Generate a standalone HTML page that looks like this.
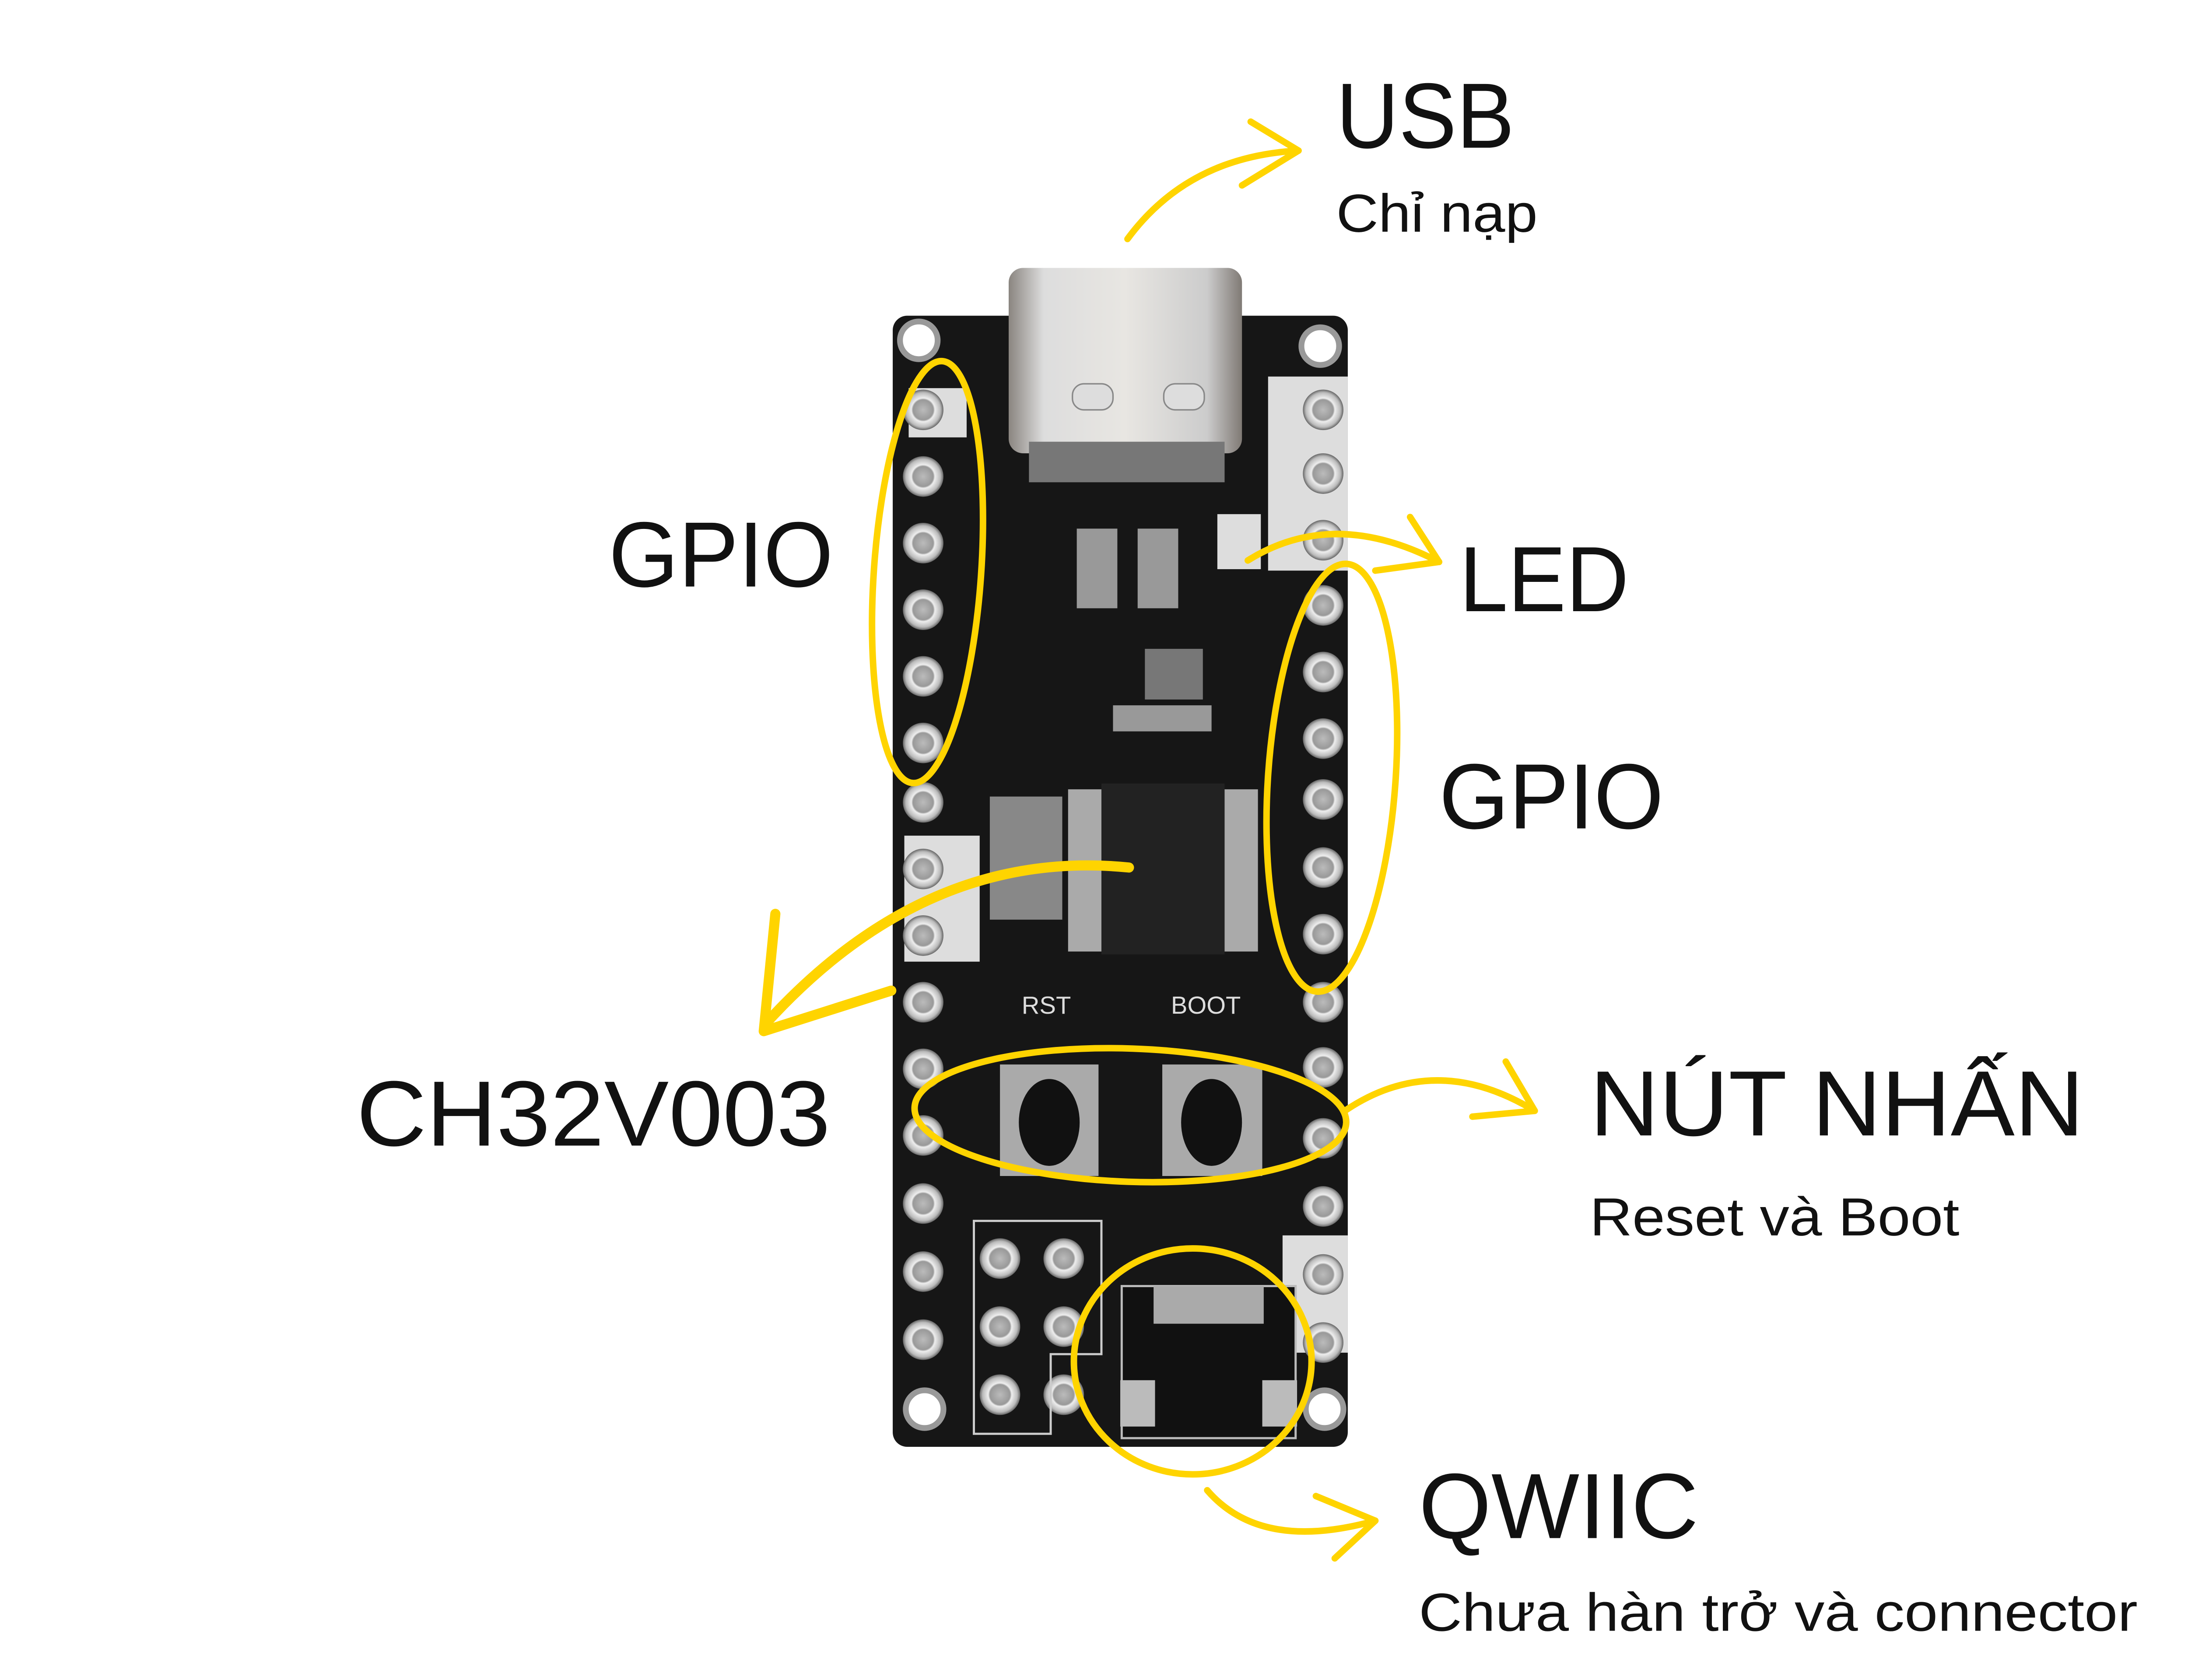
<!DOCTYPE html>
<html><head><meta charset="utf-8"><style>
html,body{margin:0;padding:0;background:#fff;}
svg{display:block;}
text{font-family:"Liberation Sans",sans-serif;fill:#111;}
</style></head><body>
<svg width="5120" height="3840" viewBox="0 0 1546 1160" preserveAspectRatio="none" xmlns="http://www.w3.org/2000/svg">
<defs>
<radialGradient id="hole" cx="50%" cy="50%" r="50%">
<stop offset="0" stop-color="#bbb"/><stop offset="0.5" stop-color="#999"/><stop offset="0.58" stop-color="#eee"/><stop offset="0.85" stop-color="#bbb"/><stop offset="1" stop-color="#666"/>
</radialGradient>
<linearGradient id="usb" x1="0" x2="1"><stop offset="0" stop-color="#8a8580"/><stop offset="0.15" stop-color="#ddd"/><stop offset="0.5" stop-color="#e8e6e2"/><stop offset="0.85" stop-color="#ccc"/><stop offset="1" stop-color="#807a75"/></linearGradient>
</defs>
<!-- board -->
<rect x="616" y="218" width="314" height="781" rx="10" fill="#161616"/>
<!-- silkscreen white regions -->
<rect x="875" y="260" width="55" height="134" fill="#ddd"/>
<rect x="624" y="577" width="52" height="87" fill="#ddd"/>
<rect x="885" y="853" width="45" height="81" fill="#ddd"/>
<rect x="627" y="268" width="40" height="34" fill="#ddd"/>
<!-- corner holes -->
<g fill="#fff" stroke="#999" stroke-width="4">
<circle cx="634" cy="235" r="13"/><circle cx="911" cy="239" r="13"/><circle cx="638" cy="973" r="13"/><circle cx="914" cy="973" r="13"/>
</g>
<!-- pins -->
<g fill="url(#hole)">
<circle cx="637" cy="283" r="14"/><circle cx="637" cy="329" r="14"/><circle cx="637" cy="375" r="14"/><circle cx="637" cy="421" r="14"/><circle cx="637" cy="467" r="14"/><circle cx="637" cy="513" r="14"/><circle cx="637" cy="554" r="14"/><circle cx="637" cy="600" r="14"/><circle cx="637" cy="646" r="14"/><circle cx="637" cy="692" r="14"/><circle cx="637" cy="738" r="14"/><circle cx="637" cy="784" r="14"/><circle cx="637" cy="831" r="14"/><circle cx="637" cy="878" r="14"/><circle cx="637" cy="925" r="14"/>
<circle cx="913" cy="283" r="14"/><circle cx="913" cy="327" r="14"/><circle cx="913" cy="373" r="14"/><circle cx="913" cy="418" r="14"/><circle cx="913" cy="464" r="14"/><circle cx="913" cy="510" r="14"/><circle cx="913" cy="552" r="14"/><circle cx="913" cy="599" r="14"/><circle cx="913" cy="645" r="14"/><circle cx="913" cy="692" r="14"/><circle cx="913" cy="737" r="14"/><circle cx="913" cy="786" r="14"/><circle cx="913" cy="833" r="14"/><circle cx="913" cy="880" r="14"/><circle cx="913" cy="927" r="14"/>
<circle cx="690" cy="869" r="14"/><circle cx="734" cy="869" r="14"/><circle cx="690" cy="916" r="14"/><circle cx="734" cy="916" r="14"/><circle cx="690" cy="963" r="14"/><circle cx="734" cy="963" r="14"/>
</g>
<!-- header outline -->
<path d="M672 843 H760 V935 H725 V990 H672 Z" fill="none" stroke="#ccc" stroke-width="1.5"/>
<!-- USB -->
<rect x="696" y="185" width="161" height="128" rx="10" fill="url(#usb)"/>
<rect x="710" y="305" width="135" height="28" fill="#777"/>
<rect x="740" y="265" width="28" height="18" rx="8" fill="#ddd" stroke="#888"/>
<rect x="803" y="265" width="28" height="18" rx="8" fill="#ddd" stroke="#888"/>
<!-- small components -->
<rect x="743" y="365" width="28" height="55" fill="#999"/>
<rect x="785" y="365" width="28" height="55" fill="#999"/>
<rect x="840" y="355" width="30" height="38" fill="#ddd"/>
<rect x="790" y="448" width="40" height="35" fill="#777"/>
<rect x="768" y="487" width="68" height="18" fill="#999"/>
<rect x="683" y="550" width="50" height="85" fill="#888"/>
<!-- chip -->
<rect x="737" y="545" width="131" height="112" fill="#aaa"/>
<rect x="760" y="541" width="85" height="118" fill="#222"/>
<text x="705" y="700" font-size="17" style="fill:#ddd">RST</text>
<text x="808" y="700" font-size="17" style="fill:#ddd">BOOT</text>
<!-- buttons -->
<rect x="690" y="735" width="68" height="77" fill="#aaa"/>
<ellipse cx="724" cy="775" rx="21" ry="30" fill="#111"/>
<rect x="802" y="735" width="69" height="77" fill="#aaa"/>
<ellipse cx="836" cy="775" rx="21" ry="30" fill="#111"/>
<!-- qwiic -->
<rect x="774" y="888" width="120" height="105" fill="#111" stroke="#bbb" stroke-width="1.5"/>
<rect x="796" y="888" width="76" height="26" fill="#aaa"/>
<rect x="773" y="953" width="24" height="32" fill="#bbb"/>
<rect x="871" y="953" width="24" height="32" fill="#bbb"/>
<!-- yellow annotations -->
<g fill="none" stroke="#FFD400" stroke-width="4.5" stroke-linecap="round" stroke-linejoin="round">
<ellipse cx="640" cy="395" rx="37" ry="146" transform="rotate(4 640 395)"/>
<ellipse cx="919" cy="537" rx="44" ry="148" transform="rotate(4 919 537)"/>
<ellipse cx="780" cy="770" rx="149" ry="46" transform="rotate(2 780 770)"/>
<ellipse cx="823" cy="940" rx="82" ry="78"/>
<path d="M778 165 Q820 108 896 104"/><path d="M863 84 L896 104 L857 128"/>
<path d="M861 387 Q920 350 993 388"/><path d="M973 357 L993 388 L949 394"/>
<path d="M928 767 Q990 725 1059 767"/><path d="M1039 733 L1059 767 L1016 771"/>
<path d="M833 1029 Q870 1072 949 1050"/><path d="M908 1033 L949 1050 L921 1076"/>
</g>
<path d="M779 599 Q640 585 530 705" fill="none" stroke="#FFD400" stroke-width="7" stroke-linecap="round"/>
<path d="M535 631 L527 712 L615 684" fill="none" stroke="#FFD400" stroke-width="7" stroke-linecap="round" stroke-linejoin="round"/>
<!-- labels -->
<text x="922" y="102" font-size="64" textLength="123" lengthAdjust="spacingAndGlyphs">USB</text>
<text x="922" y="160" font-size="37" textLength="139" lengthAdjust="spacingAndGlyphs">Chỉ nạp</text>
<text x="420" y="405" font-size="64" textLength="155" lengthAdjust="spacingAndGlyphs">GPIO</text>
<text x="1007" y="422" font-size="64" textLength="117" lengthAdjust="spacingAndGlyphs">LED</text>
<text x="993" y="572" font-size="64" textLength="155" lengthAdjust="spacingAndGlyphs">GPIO</text>
<text x="246" y="791" font-size="64" textLength="327" lengthAdjust="spacingAndGlyphs">CH32V003</text>
<text x="1097" y="784" font-size="64" textLength="341" lengthAdjust="spacingAndGlyphs">NÚT NHẤN</text>
<text x="1097" y="853" font-size="37" textLength="255" lengthAdjust="spacingAndGlyphs">Reset và Boot</text>
<text x="979" y="1062" font-size="64" textLength="193" lengthAdjust="spacingAndGlyphs">QWIIC</text>
<text x="979" y="1126" font-size="37" textLength="496" lengthAdjust="spacingAndGlyphs">Chưa hàn trở và connector</text>
</svg>
</body></html>
